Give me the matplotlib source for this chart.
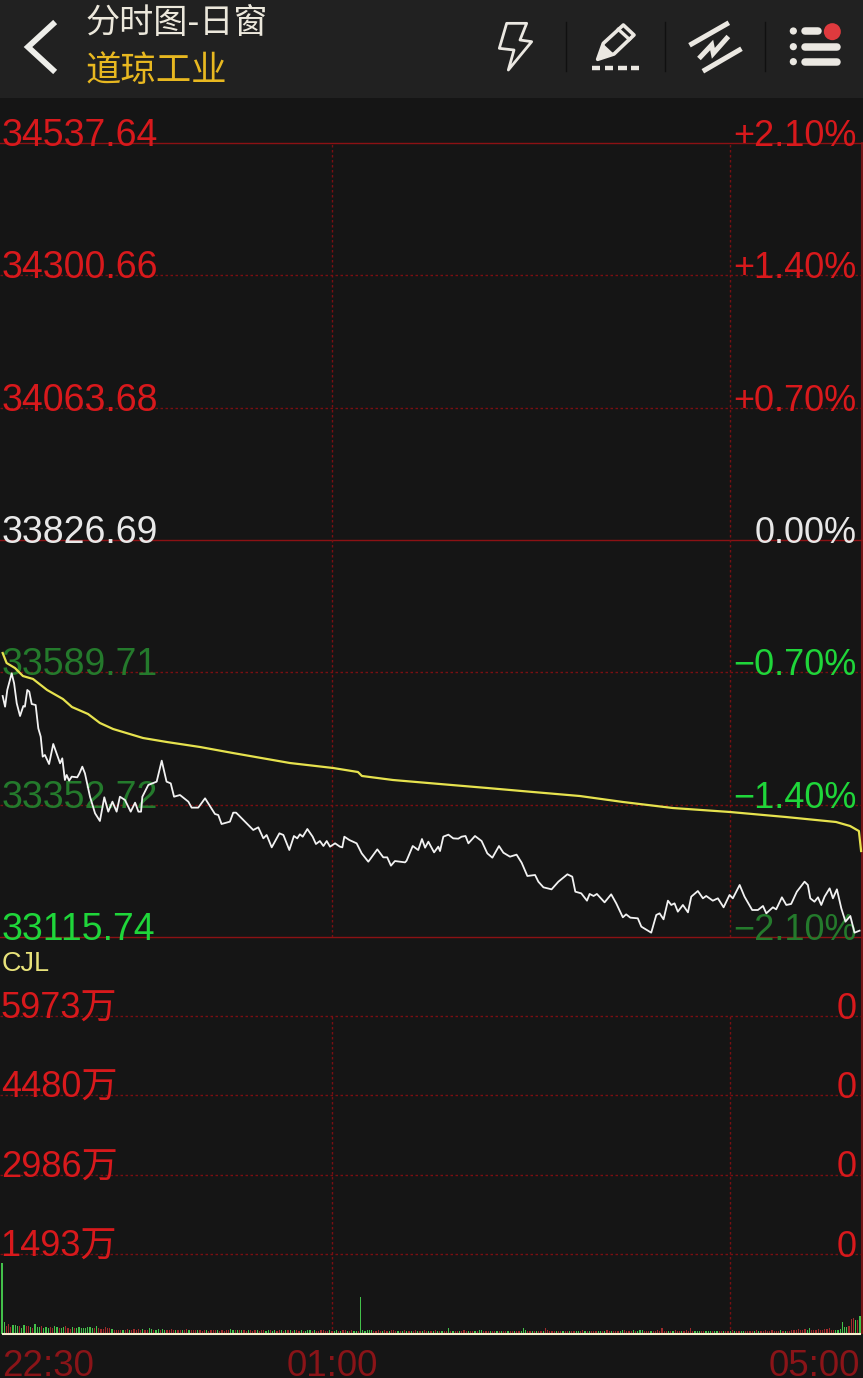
import matplotlib
matplotlib.use("Agg")
import matplotlib.pyplot as plt
from matplotlib.patches import Circle, Polygon, Rectangle

# price line (minutes after 22:30, index points)
price_min = [0.3, 1.4, 2.4, 4.4, 5.5, 6.7, 8.2, 9.7, 10.4, 11.5, 12.4, 13.5, 15.3, 16.5, 17.6, 18.5, 19.5, 21.4,
             23.3, 24.8, 26.4, 27.4, 28.6, 29.4, 30.5, 31.7, 34.2, 35.2, 36.5, 37.7, 40.0, 42.3, 44.5, 46.5, 48.3,
             50.2, 52.1, 53.6, 55.9, 58.5, 60.5, 62.0, 63.2, 63.8, 66.5, 70.3, 72.6, 74.8, 76.7, 78.2, 80.9, 84.7,
             86.2, 89.2, 92.3, 96.8, 98.3, 99.8, 103.6, 105.1, 106.4, 109.7, 114.2, 116.5, 118.8, 120.3, 122.6,
             126.1, 127.9, 130.6, 132.7, 134.2, 135.4, 136.7, 138.8, 141.2, 142.7, 144.5, 146.1, 147.6, 149.1,
             151.4, 153.6, 154.7, 155.6, 157.9, 161.2, 163.5, 166.5, 170.6, 173.3, 175.1, 176.8, 178.6, 183.2,
             183.9, 186.7, 189.2, 190.9, 192.3, 193.8, 196.4, 198.3, 199.1, 200.6, 202.9, 205.1, 207.4, 208.9,
             210.7, 212.0, 215.0, 218.0, 220.6, 222.9, 225.9, 227.9, 230.9, 233.9, 236.2, 238.8, 242.3, 243.8,
             246.1, 249.8, 252.9, 257.0, 259.2, 260.6, 263.3, 265.9, 267.1, 268.9, 270.4, 273.9, 276.9, 279.2,
             282.2, 283.7, 285.6, 289.0, 290.6, 295.1, 297.4, 298.9, 300.7, 302.7, 304.2, 305.7, 307.2, 309.5,
             311.8, 313.3, 316.3, 318.6, 320.1, 323.1, 325.4, 328.0, 330.7, 332.2, 335.3, 337.5, 341.0, 343.6,
             345.9, 347.4, 350.4, 351.9, 354.5, 356.5, 358.7, 361.3, 364.8, 366.3, 367.4, 369.3, 370.9, 372.4,
             373.9, 376.2, 377.7, 379.5, 381.5, 383.4, 385.6, 387.5, 389.8]
price_val = [33547.3, 33528.2, 33558.1, 33587.9, 33570.0, 33534.2, 33511.5, 33529.4, 33528.2, 33558.1, 33555.1,
             33533.0, 33531.2, 33489.4, 33474.5, 33438.7, 33441.7, 33425.5, 33461.4, 33444.6, 33426.8, 33435.7,
             33396.9, 33405.9, 33395.7, 33402.9, 33401.7, 33408.8, 33420.8, 33408.8, 33367.0, 33337.2, 33323.5,
             33365.9, 33340.2, 33358.1, 33340.2, 33367.0, 33361.1, 33340.2, 33356.3, 33340.2, 33340.2, 33367.0,
             33388.0, 33393.9, 33431.5, 33393.9, 33390.9, 33367.0, 33370.0, 33358.1, 33347.4, 33347.4, 33364.1,
             33336.0, 33334.2, 33318.1, 33322.3, 33338.4, 33338.4, 33325.3, 33307.4, 33312.1, 33292.4, 33298.4,
             33276.3, 33301.4, 33298.4, 33271.6, 33296.6, 33292.4, 33299.6, 33295.4, 33309.1, 33295.4, 33282.3,
             33287.6, 33278.7, 33287.6, 33277.5, 33283.5, 33277.5, 33276.3, 33295.4, 33289.4, 33283.5, 33265.5,
             33250.6, 33272.7, 33258.4, 33258.4, 33243.5, 33251.8, 33249.4, 33252.4, 33278.7, 33271.5, 33291.2,
             33275.7, 33286.4, 33267.3, 33277.5, 33269.7, 33295.4, 33299.0, 33292.4, 33291.8, 33295.4, 33296.6,
             33283.5, 33296.6, 33287.6, 33265.5, 33257.8, 33278.7, 33266.7, 33259.6, 33263.2, 33248.8, 33225.0,
             33226.8, 33214.8, 33204.7, 33201.1, 33214.8, 33228.0, 33223.8, 33196.9, 33193.9, 33180.8, 33192.8,
             33189.2, 33192.8, 33177.8, 33192.2, 33176.0, 33151.0, 33156.3, 33150.4, 33149.2, 33134.3, 33123.5,
             33155.2, 33158.1, 33147.4, 33180.8, 33173.1, 33176.0, 33161.1, 33173.1, 33159.9, 33188.0, 33198.1,
             33185.0, 33189.2, 33180.8, 33185.0, 33168.9, 33191.0, 33185.0, 33208.9, 33188.0, 33164.1, 33164.1,
             33171.3, 33158.1, 33168.9, 33165.3, 33186.8, 33173.1, 33174.9, 33196.9, 33214.8, 33208.9, 33185.0,
             33179.0, 33186.8, 33173.1, 33188.0, 33202.9, 33185.0, 33201.1, 33167.1, 33143.2, 33153.4, 33123.5,
             33127.1]

# average line
avg_min = [0.3, 2.1, 5.9, 9.5, 14.1, 20.5, 27.7, 31.8, 39.1, 44.5, 50.5, 64.1, 75.0, 90.0, 105.0, 130.9, 150.5,
           161.8, 163.6, 177.7, 199.1, 220.5, 241.4, 262.7, 282.3, 305.0, 330.9, 356.4, 379.1, 385.5, 389.5, 390.5]
avg_val = [33624.3, 33606.4, 33597.4, 33583.1, 33577.8, 33558.1, 33541.9, 33527.6, 33515.1, 33499.0, 33488.2,
           33472.1, 33464.9, 33456.0, 33445.2, 33427.3, 33418.4, 33411.2, 33404.1, 33396.9, 33389.7, 33382.6,
           33375.4, 33368.2, 33357.5, 33346.7, 33339.6, 33330.6, 33321.7, 33314.5, 33305.5, 33269.7]

# volume per minute in 万, negative = green bar
volume = [-1318, -210, 150, 170, 120, -160, -155, -135, 150, -110, -160, 145, 140, -130, 110, -170, -125, -115, 140, -105,
          -130, -110, 120, 105, -135, -120, 95, -110, -125, 135, 105, 90, -125, 110, -100, -120, -95, -105, -110, -115,
          -130, -110, 95, -150, 105, 80, 90, 130, 100, 105, -85, 75, 65, 70, 65, -70, 75, 80, -75, 70,
          90, 75, 80, 70, -80, 75, 65, -95, -90, 70, -75, -85, 65, -80, -75, 60, 70, 80, 65, -70,
          75, 70, -65, 75, 80, -70, 65, 60, 70, -75, 65, 55, 70, -65, 55, 60, 75, 65, -60, 55,
          60, 55, 65, 75, -80, -70, 60, -65, 60, -70, 65, 55, -60, 70, 55, 60, -65, 55, 70, 60,
          -55, -60, 65, -55, -60, 55, 65, -60, 55, -65, 70, -60, 55, -60, 65, 55, -60, 50, -55, -60,
          -65, 55, -60, 50, 55, 65, 60, 55, 50, -60, 55, -50, -60, 55, -50, 60, 65, -50, 55, 60,
          -50, -55, 50, -680, -65, -50, -60, -70, -65, 50, 55, 60, 50, -55, 60, 50, -55, 60, 65, 50,
          -50, 55, -50, 60, -55, 50, -55, 50, 60, -50, 55, -50, 60, 55, -50, 50, -55, 60, -50, 55,
          -50, 55, 50, -105, 55, -50, 55, 50, -50, 55, 60, 50, -55, 50, 50, -55, 50, -75, -60, 55,
          50, 55, -50, 50, 55, -50, 50, -55, 50, 55, -50, 55, 50, -50, 55, 50, -55, -95, -65, 50,
          55, -50, 50, -55, 50, 50, -55, 95, 60, 50, 55, 50, -50, 55, 50, -55, 50, 55, -50, 50,
          55, -50, -55, 50, 60, -55, 50, -55, 50, 50, 55, -55, -50, 55, -50, 60, 50, -55, 50, 55,
          50, -55, -60, 75, 55, 50, 50, -65, 50, -55, -75, -60, 50, 55, 50, -50, 55, 50, 60, 55,
          95, 55, 50, -50, 55, -50, 60, 55, 50, -50, 55, 60, 50, 95, 55, -50, -55, -50, 50, 55,
          -50, -55, -50, 50, -55, -50, 55, 50, -55, 50, 55, -50, 60, -55, 50, 55, -50, -55, 50, 55,
          50, 55, -50, 60, -55, 50, 55, 65, 50, 55, 60, 55, 50, 45, -60, 50, -50, 55, 50, 60,
          70, 75, 80, 70, 75, 80, -75, -95, 70, 65, 75, 80, 70, 75, 85, 80, 105, 70, 75, -65,
          -70, -80, -225, -130, -125, 150, 275, 285, -245, 255, -320]

left_labels = ["34537.64", "34300.66", "34063.68", "33826.69", "33589.71", "33352.72", "33115.74"]
left_values = [34537.64, 34300.66, 34063.68, 33826.69, 33589.71, 33352.72, 33115.74]
right_labels = ["+2.10%", "+1.40%", "+0.70%", "0.00%", "−0.70%", "−1.40%", "−2.10%"]
level_colors = ["#d8191c", "#d8191c", "#d8191c", "#e8e8e8", "#247a2c", "#247a2c", "#1fd63a"]
right_colors = ["#d8191c", "#d8191c", "#d8191c", "#e8e8e8", "#1fd63a", "#1fd63a", "#247a2c"]
vol_ticks = [5973, 4480, 2986, 1493]
vol_labels = ["5973万", "4480万", "2986万", "1493万"]
time_ticks = [0, 150, 390]
time_labels = ["22:30", "01:00", "05:00"]

W, H = 863, 1378
BG = "#151515"
HEADER = "#212121"
GRID = "#7a0f12"
LABEL_FONT = ["Liberation Sans", "Noto Sans CJK SC"]


def frac_box(x0, y0, x1, y1):
    return [x0 / W, 1 - y1 / H, (x1 - x0) / W, (y1 - y0) / H]


fig = plt.figure(figsize=(W / 100, H / 100), dpi=100, facecolor=BG)

# page layer in pixels: header, icons
page = fig.add_axes([0, 0, 1, 1], zorder=1)
page.set_xlim(0, W)
page.set_ylim(H, 0)
page.axis("off")
page.add_patch(Rectangle((0, 0), W, 98, color=HEADER, lw=0))
page.plot([53, 28, 53], [24, 47, 70], color="#eeeeea", lw=4.2, solid_joinstyle="miter")
page.text(86, 24, "分时图-日窗", color="#ece8dc", fontsize=24.6, family="Noto Sans CJK SC", va="center")
page.text(86, 71, "道琼工业", color="#e8b820", fontsize=25.5, family="Noto Sans CJK SC", va="center")

ICON = "#ebe8e2"


def ic(pts):
    return [(470 + x / 3, y / 3) for x, y in pts]


page.add_patch(Polygon(ic([(110, 70), (170, 70), (150, 120), (185, 125), (115, 210), (132, 150), (88, 145)]),
                       fill=False, ec=ICON, lw=2, joinstyle="round"))
for sx in [566, 665, 765]:
    page.plot([sx, sx], [22, 71], color="#101010", lw=1)
page.add_patch(Polygon(ic([(383, 178), (400, 130), (460, 75), (492, 105), (432, 162)]),
                       fill=False, ec=ICON, lw=2.6, joinstyle="round"))
page.add_patch(Polygon(ic([(383, 178), (400, 132), (430, 160)]), color=ICON, lw=0))
page.plot(*zip(*ic([(445, 88), (478, 118)])), color=ICON, lw=2.4)
for a, b in [(365, 390), (405, 430), (445, 470), (483, 508)]:
    page.plot(*zip(*ic([(a, 203), (b, 203)])), color=ICON, lw=3.2, solid_capstyle="butt")
for seg in [[(665, 132), (770, 72)], [(705, 210), (808, 150)],
            [(692, 170), (725, 135), (730, 160), (770, 115)]]:
    page.plot(*zip(*ic(seg)), color=ICON, lw=3.6, solid_joinstyle="miter")
for dy, x_end in [(93, 1045), (140, 1100), (185, 1100)]:
    page.add_patch(Circle(ic([(970, dy)])[0], 3.6, color=ICON, lw=0))
    page.plot(*zip(*ic([(1006, dy), (x_end, dy)])), color=ICON, lw=5.4, solid_capstyle="round")
page.add_patch(Circle((470 + 1087 / 3, 95 / 3), 11.5, color=HEADER, lw=0))
page.add_patch(Circle((470 + 1087 / 3, 95 / 3), 8.5, color="#df3a3e", lw=0))

# price panel, x axis runs on minutes
x0_min, x1_min = -2 / 2.2, (W - 2) / 2.2
price_ax = fig.add_axes(frac_box(0, 143, W, 937), zorder=2)
price_ax.patch.set_alpha(0)
price_ax.axis("off")
price_ax.set_xlim(x0_min, x1_min)
price_ax.set_ylim(33115.74, 34537.64)

solid_levels = [34537.64, 33826.69, 33115.74]
for val, lab, rlab, col, rcol in zip(left_values, left_labels, right_labels, level_colors, right_colors):
    if val in solid_levels:
        price_ax.axhline(val, color="#8c1114", lw=1.0, clip_on=False, zorder=1)
    else:
        price_ax.axhline(val, color=GRID, lw=1.0, ls=(0, (1.8, 1.8)), zorder=1)
    price_ax.annotate(lab, (0, val), xycoords=("axes fraction", "data"), xytext=(1.2, -2.2),
                      textcoords="offset points", color=col, fontsize=27, family=LABEL_FONT,
                      va="baseline", ha="left", annotation_clip=False, zorder=2)
    price_ax.annotate(rlab, (1, val), xycoords=("axes fraction", "data"), xytext=(-4.5, -2.2),
                      textcoords="offset points", color=rcol, fontsize=26, family=LABEL_FONT,
                      va="baseline", ha="right", annotation_clip=False, zorder=2)
for m in [150, 331]:
    price_ax.axvline(m, color=GRID, lw=1.0, ls=(0, (1.8, 1.8)), zorder=1)
price_ax.plot(avg_min, avg_val, color="#e6e24e", lw=1.6, zorder=3, clip_on=False)
price_ax.plot(price_min, price_val, color="#f2f2f2", lw=1.3, zorder=4, clip_on=False)
price_ax.text(0.0023, -0.0335, "CJL", transform=price_ax.transAxes, color="#e8e27a", fontsize=19.5,
              family="Liberation Sans", va="center", ha="left", clip_on=False)

# volume panel
vol_ax = fig.add_axes(frac_box(0, 1016, W, 1333.5), zorder=2)
vol_ax.patch.set_alpha(0)
vol_ax.axis("off")
vol_ax.set_xlim(x0_min, x1_min)
vol_ax.set_ylim(0, 5973)
bar_x = list(range(len(volume)))
bar_h = [abs(v) for v in volume]
bar_c = ["#43c04a" if v < 0 else "#a02a2a" for v in volume]
vol_ax.bar(bar_x, bar_h, width=0.55, color=bar_c, lw=0, zorder=2)
vol_ax.axhline(0, xmin=3 / W, xmax=860 / W, color="#f6efcf", lw=1.5, zorder=3, clip_on=False)
for val, lab in zip(vol_ticks, vol_labels):
    vol_ax.axhline(val, color=GRID, lw=1.0, ls=(0, (1.8, 1.8)), zorder=1, clip_on=False)
    vol_ax.annotate(lab, (0, val), xycoords=("axes fraction", "data"), xytext=(0.5, -1.8),
                    textcoords="offset points", color="#d8191c", fontsize=26, family=LABEL_FONT,
                    va="baseline", ha="left", annotation_clip=False)
    vol_ax.annotate("0", (1, val), xycoords=("axes fraction", "data"), xytext=(-4.5, -1.8),
                    textcoords="offset points", color="#d8191c", fontsize=26, family=LABEL_FONT,
                    va="baseline", ha="right", annotation_clip=False)
for m in [150, 331]:
    vol_ax.axvline(m, color=GRID, lw=1.0, ls=(0, (1.8, 1.8)), zorder=1)

# time labels under the volume panel
for m, lab in zip(time_ticks, time_labels):
    ha = {0: "left", 150: "center", 390: "right"}[m]
    vol_ax.annotate(lab, (m, 0), xycoords=("data", "axes fraction"), xytext=(0, -30.6),
                    textcoords="offset points", color="#8a1418", fontsize=26.5, family="Liberation Sans",
                    va="baseline", ha=ha, annotation_clip=False)

# right edge
page.plot([861.5, 861.5], [143, 1333], color="#8a1418", lw=1.2)

fig.savefig("out.png", dpi=100, facecolor=BG)
